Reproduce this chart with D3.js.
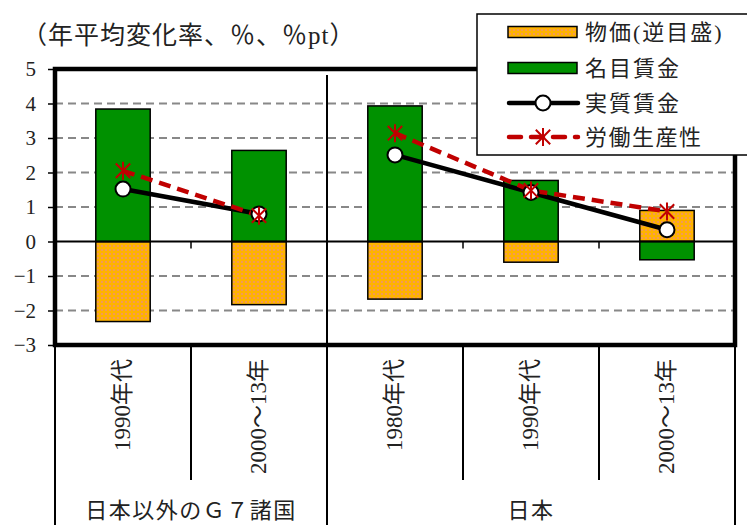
<!DOCTYPE html>
<html><head><meta charset="utf-8">
<script src="https://cdn.jsdelivr.net/npm/d3@7"></script>
<style>
body{margin:0;background:#fff;}
svg{display:block;font-family:"Liberation Serif","Noto Sans CJK JP",serif;}
</style></head>
<body><svg id="c" width="747" height="525"></svg>
<script>
const categories = ["1990年代","2000～13年","1980年代","1990年代","2000～13年"];
const groupNames = ["日本以外のＧ７諸国","日本"];
const groupOf = [0,0,1,1,1];
const price = [-2.32,-1.83,-1.67,-0.60,0.90];      // 物価(逆目盛)
const nominal = [3.84,2.64,3.93,1.77,-0.53];      // 名目賃金
const real = [1.52,0.80,2.51,1.42,0.34];          // 実質賃金
const productivity = [2.05,0.75,3.14,1.48,0.87];  // 労働生産性
const yTicks = [-3,-2,-1,0,1,2,3,4,5];
const gridTicks = [-2,-1,1,2,3,4];
const legendLabels = ["物価(逆目盛)","名目賃金","実質賃金","労働生産性"];
const titleText = "（年平均変化率、％、％pt）";

const svg = d3.select("#c");
const L = 55, R = 735, T = 69, B = 345;
const ORANGE = "#FFB300", GREEN = "#009100", RED = "#C00000";

const defs = svg.append("defs");
const pat = defs.append("pattern").attr("id","dots").attr("patternUnits","userSpaceOnUse")
  .attr("width",4).attr("height",4);
pat.append("rect").attr("width",4).attr("height",4).attr("fill",ORANGE);
pat.append("rect").attr("x",1).attr("y",1).attr("width",2).attr("height",2).attr("fill","#F39A55");

const idx = d3.range(categories.length);
const x = d3.scaleBand().domain(idx).range([L,R]).paddingInner(0.6).paddingOuter(0.3);
const step = x.step();
const y = d3.scaleLinear().domain([-3,5]).range([B,T]);
const cx = i => x(i) + x.bandwidth()/2;

// title
svg.append("text").attr("x",22).attr("y",44).attr("font-size",25).attr("fill","#222")
  .attr("letter-spacing",1).text(titleText);

// gridlines
svg.append("g").selectAll("line").data(gridTicks).join("line")
  .attr("x1",L).attr("x2",R).attr("y1",d=>y(d)).attr("y2",d=>y(d))
  .attr("stroke","#888").attr("stroke-width",2).attr("stroke-dasharray","8,5");

// group separator inside plot
svg.append("line").attr("x1",L+2*step).attr("x2",L+2*step).attr("y1",75).attr("y2",B)
  .attr("stroke","#000").attr("stroke-width",2);

// bars
const bars = svg.append("g");
bars.selectAll("rect.p").data(price).join("rect").attr("class","p")
  .attr("x",(d,i)=>x(i)).attr("width",x.bandwidth())
  .attr("y",d=>y(Math.max(0,d))).attr("height",d=>Math.abs(y(d)-y(0)))
  .attr("fill","url(#dots)").attr("stroke","#000").attr("stroke-width",1.5);
bars.selectAll("rect.n").data(nominal).join("rect").attr("class","n")
  .attr("x",(d,i)=>x(i)).attr("width",x.bandwidth())
  .attr("y",d=>y(Math.max(0,d))).attr("height",d=>Math.abs(y(d)-y(0)))
  .attr("fill",GREEN).attr("stroke","#000").attr("stroke-width",1.5);

// zero line
svg.append("line").attr("x1",L).attr("x2",R).attr("y1",y(0)).attr("y2",y(0))
  .attr("stroke","#000").attr("stroke-width",2);
// small ticks at zero line
svg.append("g").selectAll("line").data([1,3,4]).join("line")
  .attr("x1",d=>L+d*step).attr("x2",d=>L+d*step).attr("y1",y(0)).attr("y2",y(0)+7)
  .attr("stroke","#000").attr("stroke-width",1.5);

// lines per group
const line = d3.line().x(d=>cx(d.i)).y(d=>y(d.v));
function segs(arr){ return d3.groups(arr.map((v,i)=>({i,v,g:groupOf[i]})), d=>d.g).map(d=>d[1]); }
svg.append("g").selectAll("path").data(segs(real)).join("path")
  .attr("d",line).attr("fill","none").attr("stroke","#000").attr("stroke-width",4.5);
svg.append("g").selectAll("path").data(segs(productivity)).join("path")
  .attr("d",line).attr("fill","none").attr("stroke",RED).attr("stroke-width",4.5)
  .attr("stroke-dasharray","12,7");
svg.append("g").selectAll("circle").data(real).join("circle")
  .attr("cx",(d,i)=>cx(i)).attr("cy",d=>y(d)).attr("r",7.5)
  .attr("fill","#fff").attr("stroke","#000").attr("stroke-width",2);
function star(g, px, py, s){
  g.append("path").attr("d",`M${px},${py-s}L${px},${py+s}M${px-s*0.8},${py-s*0.8}L${px+s*0.8},${py+s*0.8}M${px-s*0.8},${py+s*0.8}L${px+s*0.8},${py-s*0.8}`)
    .attr("stroke",RED).attr("stroke-width",2).attr("fill","none");
}
const sg = svg.append("g");
productivity.forEach((v,i)=>star(sg,cx(i),y(v),9));

// frame
svg.append("rect").attr("x",L).attr("y",T).attr("width",R-L).attr("height",B-T)
  .attr("fill","none").attr("stroke","#000").attr("stroke-width",4.5);

// y axis
const ya = svg.append("g").attr("transform",`translate(${L},0)`)
  .call(d3.axisLeft(y).tickValues(yTicks).tickSize(7).tickPadding(12).tickFormat(d3.format("d")));
ya.select(".domain").remove();
ya.selectAll(".tick line").attr("stroke","#000").attr("stroke-width",1.5);
ya.selectAll(".tick text").attr("font-size",21).attr("fill","#222")
  .attr("font-family","Liberation Serif");

// category table below
const tbl = svg.append("g");
d3.range(categories.length+1).forEach(k=>{
  const xx = L + k*step;
  const full = (k===0||k===2||k===categories.length);
  tbl.append("line").attr("x1",xx).attr("x2",xx).attr("y1",B).attr("y2",full?525:480)
    .attr("stroke","#000").attr("stroke-width",2);
});
tbl.selectAll("text.cat").data(categories).join("text").attr("class","cat")
  .attr("transform",(d,i)=>`translate(${cx(i)+7},359) rotate(-90)`)
  .attr("text-anchor","end").attr("font-size",23).attr("fill","#222").text(d=>d);
const gx = [ (L + L+2*step)/2, (L+2*step + R)/2 ];
tbl.selectAll("text.grp").data(groupNames).join("text").attr("class","grp")
  .attr("x",(d,i)=>gx[i]).attr("y",518).attr("text-anchor","middle")
  .attr("font-size",22).attr("letter-spacing",1.5).attr("fill","#222").text(d=>d);

// legend
const lg = svg.append("g");
lg.append("rect").attr("x",477).attr("y",14).attr("width",290).attr("height",141)
  .attr("fill","#fff").attr("stroke","#000").attr("stroke-width",1.5);
const rowsY = [32,68,103,137];
lg.append("rect").attr("x",508).attr("y",rowsY[0]-5.5).attr("width",69).attr("height",11)
  .attr("fill","url(#dots)").attr("stroke","#000").attr("stroke-width",1.5);
lg.append("rect").attr("x",508).attr("y",rowsY[1]-5.5).attr("width",69).attr("height",11)
  .attr("fill",GREEN).attr("stroke","#000").attr("stroke-width",1.5);
lg.append("line").attr("x1",509).attr("x2",578).attr("y1",rowsY[2]).attr("y2",rowsY[2])
  .attr("stroke","#000").attr("stroke-width",4.5).attr("stroke-linecap","round");
lg.append("circle").attr("cx",543).attr("cy",rowsY[2]).attr("r",7.5)
  .attr("fill","#fff").attr("stroke","#000").attr("stroke-width",2);
lg.append("line").attr("x1",509).attr("x2",578).attr("y1",rowsY[3]).attr("y2",rowsY[3])
  .attr("stroke",RED).attr("stroke-width",4.5).attr("stroke-dasharray","12,10").attr("stroke-linecap","round");
star(lg,543,rowsY[3],9);
lg.selectAll("text").data(legendLabels).join("text")
  .attr("x",585).attr("y",(d,i)=>rowsY[i]+8).attr("font-size",22).attr("fill","#222")
  .attr("letter-spacing",(d,i)=>i===0?2:(i===3?1.5:2)).text(d=>d);
</script></body></html>
